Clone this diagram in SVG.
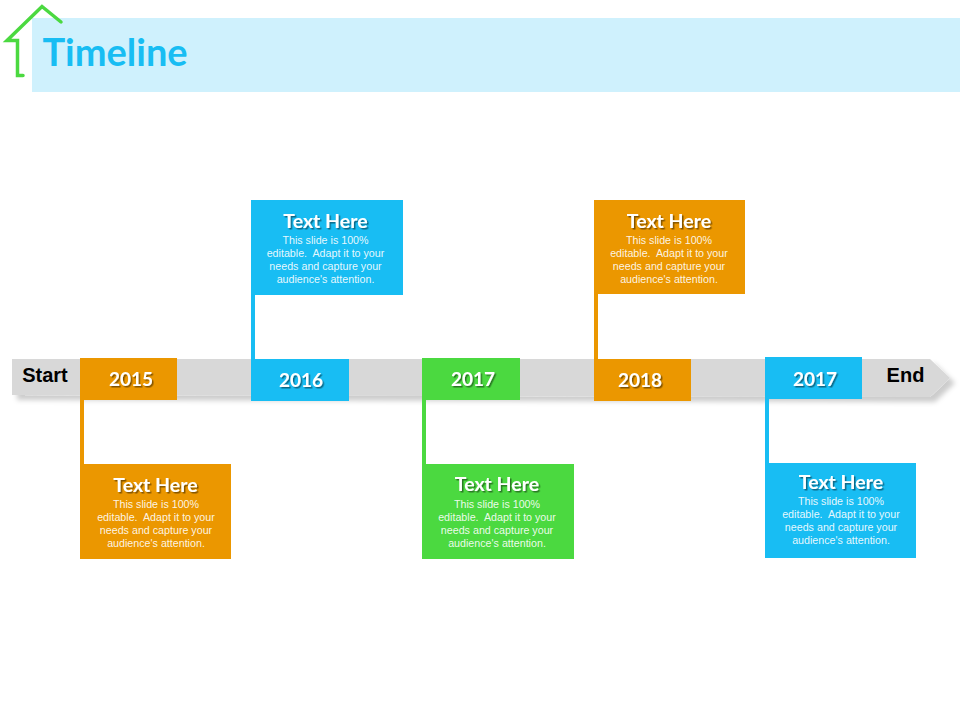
<svg xmlns="http://www.w3.org/2000/svg" width="960" height="720" viewBox="0 0 960 720">
<style>
.o{fill:#EB9700}.b{fill:#18BDF3}.g{fill:#4BD940}
text{text-anchor:middle;white-space:pre}
.y{font:700 19px Lato,"Liberation Sans",sans-serif;fill:#fff;filter:url(#ts)}
.h{font:700 19.500px Lato,"Liberation Sans",sans-serif;fill:#fff;filter:url(#ts)}
.t{font:10.700px "Liberation Sans",Arial,sans-serif;fill:#fff;fill-opacity:.9}
.e{font:700 20px "Liberation Sans",Arial,sans-serif;fill:#000}
</style>
<defs>
<filter id="ts" x="-10%" y="-20%" width="125%" height="150%"><feDropShadow dx="1.500" dy="1.500" stdDeviation="0.700" flood-color="#000" flood-opacity=".45"/></filter>
<filter id="bs" x="-2%" y="-30%" width="104%" height="170%"><feDropShadow dx="5" dy="5" stdDeviation="2.500" flood-color="#000" flood-opacity=".2"/></filter>
</defs>
<rect id="band" x="32" y="18" width="928" height="74" fill="#CFF1FD"/>
<polyline id="home" points="23,75.500 17.500,75.500 17.500,40.500 7,40.500 42,6.500 61,22" fill="none" stroke="#4BD940" stroke-width="3.500" stroke-linecap="round"/>
<text id="title" x="115" y="66" style="font:700 38px Lato,'Liberation Sans',sans-serif;fill:#18BDF3">Timeline</text>
<g id="timeline-bar">
<polygon points="12,359 930,359 950,378 930,397 12,395" fill="#D8D8D8" filter="url(#bs)"/>
<text class="e" x="45" y="382">Start</text>
<text class="e" x="905.500" y="382">End</text>
</g>
<g id="connectors">
<rect class="o" x="80" y="400" width="4" height="64"/>
<rect class="b" x="251" y="295" width="4" height="64"/>
<rect class="g" x="422" y="400" width="4" height="64"/>
<rect class="o" x="594" y="294" width="4" height="65"/>
<rect class="b" x="765" y="399" width="4" height="64"/>
</g>
<g id="year-2015"><rect class="o" x="80" y="358" width="97" height="42"/><text class="y" x="131" y="386">2015</text></g>
<g id="year-2016"><rect class="b" x="251" y="359" width="98" height="42"/><text class="y" x="301" y="387">2016</text></g>
<g id="year-2017a"><rect class="g" x="422" y="358" width="98" height="42"/><text class="y" x="473" y="386">2017</text></g>
<g id="year-2018"><rect class="o" x="594" y="359" width="97" height="42"/><text class="y" x="640" y="387">2018</text></g>
<g id="year-2017b"><rect class="b" x="765" y="357" width="97" height="42"/><text class="y" x="815" y="386">2017</text></g>
<g id="card-2015"><rect class="o" x="80" y="464" width="151" height="95"/>
<text class="h" x="155.500" y="492">Text Here</text>
<text class="t" x="156" y="508">This slide is 100%</text><text class="t" x="156" y="521">editable.  Adapt it to your</text><text class="t" x="156" y="534">needs and capture your</text><text class="t" x="156" y="547">audience's attention.</text></g>
<g id="card-2016"><rect class="b" x="251" y="200" width="152" height="95"/>
<text class="h" x="325.500" y="228">Text Here</text>
<text class="t" x="325.500" y="244">This slide is 100%</text><text class="t" x="325.500" y="257">editable.  Adapt it to your</text><text class="t" x="325.500" y="270">needs and capture your</text><text class="t" x="325.500" y="283">audience's attention.</text></g>
<g id="card-2017a"><rect class="g" x="422" y="464" width="152" height="95"/>
<text class="h" x="497" y="491">Text Here</text>
<text class="t" x="497" y="508">This slide is 100%</text><text class="t" x="497" y="521">editable.  Adapt it to your</text><text class="t" x="497" y="534">needs and capture your</text><text class="t" x="497" y="547">audience's attention.</text></g>
<g id="card-2018"><rect class="o" x="594" y="200" width="151" height="94"/>
<text class="h" x="669" y="228">Text Here</text>
<text class="t" x="669" y="244">This slide is 100%</text><text class="t" x="669" y="257">editable.  Adapt it to your</text><text class="t" x="669" y="270">needs and capture your</text><text class="t" x="669" y="283">audience's attention.</text></g>
<g id="card-2017b"><rect class="b" x="765" y="463" width="151" height="95"/>
<text class="h" x="841" y="489">Text Here</text>
<text class="t" x="841" y="505">This slide is 100%</text><text class="t" x="841" y="518">editable.  Adapt it to your</text><text class="t" x="841" y="531">needs and capture your</text><text class="t" x="841" y="544">audience's attention.</text></g>
</svg>
